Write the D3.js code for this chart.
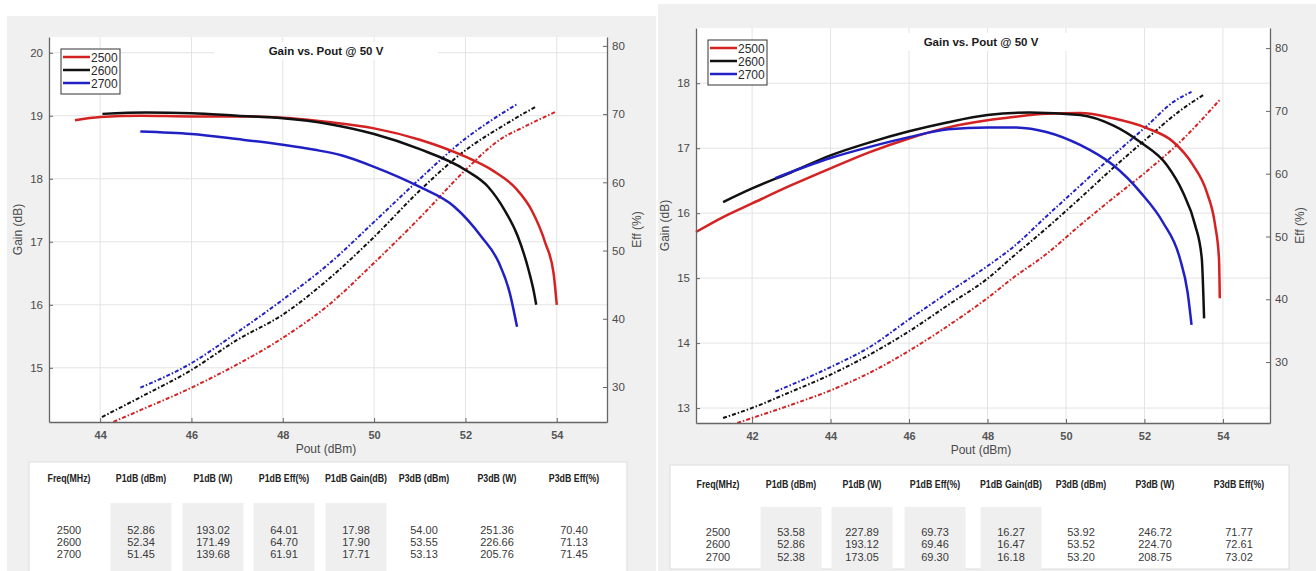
<!DOCTYPE html>
<html>
<head>
<meta charset="utf-8">
<script src="https://cdn.jsdelivr.net/npm/d3@7/dist/d3.min.js"></script>
<style>
  body { margin: 0; background: #fff; }
  svg { display: block; font-family: "Liberation Sans", Arial, Helvetica, sans-serif; }
</style>
</head>
<body>
<script>
// ---- DATA ----
var freqs = ["2500", "2600", "2700"];

// left chart: [Pout (dBm), Gain (dB)]
var leftGain2500 = [[43.45,18.93],[44,18.98],[44.9,19.0],[46,18.99],[47,18.99],[48,18.97],[49,18.9],[50,18.8],[51,18.62],[52,18.35],[52.6,18.13],[53.1,17.85],[53.45,17.5],[53.75,16.98],[53.93,16.5],[54.0,16.0]];
var leftGain2600 = [[44.05,19.03],[45,19.05],[46,19.04],[47,19.0],[48,18.96],[49,18.87],[50,18.71],[51,18.47],[52,18.14],[52.5,17.87],[52.86,17.5],[53.15,17.08],[53.38,16.56],[53.5,16.2],[53.55,16.0]];
var leftGain2700 = [[44.88,18.75],[46,18.71],[47,18.63],[48,18.54],[48.7,18.46],[49.3,18.37],[50,18.19],[51,17.87],[51.75,17.56],[52.35,17.08],[52.73,16.67],[52.97,16.19],[53.13,15.65]];
// left chart: [Pout (dBm), Eff (%)]
var leftEff2500 = [[44.29,24.9],[44.88,26.6],[46,29.9],[47,33.3],[48,37.2],[49,42.0],[50,48.2],[51,54.8],[52,61.8],[52.7,66.0],[53.4,68.5],[54.0,70.4]];
var leftEff2600 = [[44.04,25.6],[44.88,28.5],[46,32.5],[47,36.9],[48,40.6],[49,45.8],[50,52.0],[51,58.8],[52,64.7],[52.9,68.6],[53.55,71.13]];
var leftEff2700 = [[44.88,29.9],[46,33.5],[47,38.0],[48,42.8],[49,48.0],[50,54.2],[51,60.5],[52,66.4],[52.57,69.1],[53.13,71.45]];

// right chart: [Pout (dBm), Gain (dB)]
var rightGain2500 = [[40.57,15.71],[41.26,15.94],[42,16.15],[43,16.43],[44,16.69],[45,16.94],[46,17.15],[47,17.32],[48,17.43],[48.65,17.48],[49.5,17.53],[50.36,17.54],[51.2,17.46],[52.06,17.31],[52.73,17.1],[53.24,16.74],[53.59,16.32],[53.8,15.82],[53.9,15.3],[53.92,14.69]];
var rightGain2600 = [[41.26,16.17],[42,16.38],[43,16.63],[44,16.89],[45,17.09],[46,17.26],[47,17.4],[48,17.51],[49.08,17.55],[50.36,17.51],[51.2,17.35],[51.9,17.09],[52.57,16.74],[52.98,16.32],[53.29,15.82],[53.46,15.31],[53.52,14.38]];
var rightGain2700 = [[42.59,16.54],[44,16.85],[45,17.02],[46,17.17],[47,17.29],[48,17.32],[48.65,17.32],[49.5,17.25],[50.36,17.05],[51.2,16.74],[51.9,16.32],[52.47,15.86],[52.9,15.31],[53.1,14.78],[53.2,14.28]];
// right chart: [Pout (dBm), Eff (%)]
var rightEff2500 = [[41.62,20.3],[42,21.1],[43,23.2],[44,25.5],[45,28.3],[46,31.8],[47,35.8],[48,40.2],[48.65,43.4],[49.5,47.2],[50.36,51.8],[51.2,56.1],[52.06,60.4],[52.9,65.0],[53.92,71.77]];
var rightEff2600 = [[41.26,21.1],[42,22.7],[43,25.3],[44,28.0],[45,31.2],[46,34.9],[47,39.1],[48,43.3],[48.65,46.8],[49.5,51.3],[50.36,56.1],[51.2,60.9],[52.06,65.6],[52.9,70.0],[53.52,72.61]];
var rightEff2700 = [[42.59,25.3],[44,29.2],[45,32.4],[46,36.8],[47,41.1],[48,45.3],[48.65,48.3],[49.5,53.2],[50.36,58.1],[51.2,62.9],[52.06,67.6],[52.73,71.4],[53.2,73.02]];

// axis ticks
var leftXTicks = [44, 46, 48, 50, 52, 54];
var leftGainTicks = [15, 16, 17, 18, 19, 20];
var rightXTicks = [42, 44, 46, 48, 50, 52, 54];
var rightGainTicks = [13, 14, 15, 16, 17, 18];
var effTicks = [30, 40, 50, 60, 70, 80];

// tables
var tableHeaders = ["Freq(MHz)", "P1dB (dBm)", "P1dB (W)", "P1dB Eff(%)", "P1dB Gain(dB)", "P3dB (dBm)", "P3dB (W)", "P3dB Eff(%)"];
var leftTable = [
  ["2500", "52.86", "193.02", "64.01", "17.98", "54.00", "251.36", "70.40"],
  ["2600", "52.34", "171.49", "64.70", "17.90", "53.55", "226.66", "71.13"],
  ["2700", "51.45", "139.68", "61.91", "17.71", "53.13", "205.76", "71.45"]
];
var rightTable = [
  ["2500", "53.58", "227.89", "69.73", "16.27", "53.92", "246.72", "71.77"],
  ["2600", "52.86", "193.12", "69.46", "16.47", "53.52", "224.70", "72.61"],
  ["2700", "52.38", "173.05", "69.30", "16.18", "53.20", "208.75", "73.02"]
];

// ---- STYLE ----
var W = 1316, H = 571;
var color = d3.scaleOrdinal().domain(freqs).range(["#d42222", "#111111", "#2020c4"]);
var tickColor = "#4a4a4a";

var svg = d3.select("body").append("svg")
    .attr("width", W)
    .attr("height", H);

// scaled text helper (the screenshot text is a bit condensed)
function stext(g, x, y, str, opt) {
  return g.append("text")
      .attr("transform", "translate(" + x + "," + y + ") scale(" + (opt.sx || 1) + ",1)")
      .attr("text-anchor", opt.anchor || "middle")
      .attr("font-size", opt.size)
      .attr("font-weight", opt.weight || "normal")
      .attr("fill", opt.fill || "#333")
      .text(str);
}

function drawChart(cfg) {
  var g = svg.append("g");

  g.append("rect")
      .attr("x", cfg.panel[0]).attr("y", cfg.panel[1])
      .attr("width", cfg.panel[2]).attr("height", cfg.panel[3])
      .attr("fill", "#f0f0f0");

  var x = d3.scaleLinear().domain(cfg.xDomain).range([cfg.x0, cfg.x1]);
  var yG = d3.scaleLinear().domain(cfg.gainDomain).range([cfg.y1, cfg.y0]);
  var yE = d3.scaleLinear().domain(cfg.effDomain).range([cfg.y1, cfg.y0]);

  g.append("rect")
      .attr("x", cfg.x0).attr("y", cfg.y0)
      .attr("width", cfg.x1 - cfg.x0).attr("height", cfg.y1 - cfg.y0)
      .attr("fill", "#fff");

  // grid
  g.selectAll(".vgrid").data(cfg.xTicks).enter().append("line")
      .attr("x1", function(d) { return x(d); }).attr("x2", function(d) { return x(d); })
      .attr("y1", cfg.y0).attr("y2", cfg.y1)
      .attr("stroke", "#e3e3e3").attr("stroke-width", 1);
  g.selectAll(".hgrid").data(cfg.gainTicks).enter().append("line")
      .attr("x1", cfg.x0).attr("x2", cfg.x1)
      .attr("y1", function(d) { return yG(d); }).attr("y2", function(d) { return yG(d); })
      .attr("stroke", "#e3e3e3").attr("stroke-width", 1);

  // title with white background
  var tx = (cfg.x0 + cfg.x1) / 2 - 2;
  g.append("rect")
      .attr("x", tx - 112).attr("y", cfg.y0 + 5)
      .attr("width", 224).attr("height", 18)
      .attr("fill", "#fff");
  stext(g, tx, cfg.y0 + 18, "Gain vs. Pout @ 50 V", {size: 11.5, weight: "bold", fill: "#1a1a1a"});

  var line = function(ys) {
    return d3.line()
        .x(function(d) { return x(d[0]); })
        .y(function(d) { return ys(d[1]); })
        .curve(d3.curveMonotoneX);
  };

  freqs.forEach(function(f, i) {
    g.append("path")
        .attr("d", line(yE)(cfg.eff[i]))
        .attr("fill", "none")
        .attr("stroke", color(f))
        .attr("stroke-width", 2)
        .attr("stroke-dasharray", "4,2,1.5,2");
  });
  freqs.forEach(function(f, i) {
    g.append("path")
        .attr("d", line(yG)(cfg.gain[i]))
        .attr("fill", "none")
        .attr("stroke", color(f))
        .attr("stroke-width", 2.5);
  });

  // axes
  var ax = g.append("g")
      .attr("transform", "translate(0," + cfg.y1 + ")")
      .call(d3.axisBottom(x).tickValues(cfg.xTicks).tickFormat(d3.format("d"))
          .tickSizeInner(-4).tickSizeOuter(0).tickPadding(9));
  var ayl = g.append("g")
      .attr("transform", "translate(" + cfg.x0 + ",0)")
      .call(d3.axisLeft(yG).tickValues(cfg.gainTicks).tickFormat(d3.format("d"))
          .tickSizeInner(-4).tickSizeOuter(0).tickPadding(6));
  var ayr = g.append("g")
      .attr("transform", "translate(" + cfg.x1 + ",0)")
      .call(d3.axisRight(yE).tickValues(effTicks).tickFormat(d3.format("d"))
          .tickSizeInner(-4).tickSizeOuter(0).tickPadding(5));
  [ax, ayl, ayr].forEach(function(a) {
    a.select(".domain").attr("stroke", "#666").attr("stroke-width", 1.3);
    a.selectAll(".tick line").attr("stroke", "#666");
    a.selectAll(".tick text")
        .attr("font-family", "Liberation Sans, Arial, sans-serif")
        .attr("font-size", 11.5)
        .attr("fill", tickColor);
  });
  ax.selectAll(".tick text").attr("font-weight", "bold").attr("font-size", 11).attr("fill", "#555");

  // axis labels
  var cy = (cfg.y0 + cfg.y1) / 2;
  stext(g, (cfg.x0 + cfg.x1) / 2 - 2, cfg.y1 + 31, "Pout (dBm)", {size: 12, fill: tickColor});
  g.append("text")
      .attr("transform", "translate(" + (cfg.x0 - 27) + "," + cy + ") rotate(-90)")
      .attr("text-anchor", "middle")
      .attr("font-size", 12).attr("fill", tickColor)
      .text("Gain (dB)");
  g.append("text")
      .attr("transform", "translate(" + (cfg.x1 + 34) + "," + cy + ") rotate(-90)")
      .attr("text-anchor", "middle")
      .attr("font-size", 12).attr("fill", tickColor)
      .text("Eff (%)");

  // legend
  var lg = g.append("g").attr("transform", "translate(" + (cfg.x0 + 12) + "," + (cfg.y0 + 12) + ")");
  lg.append("rect")
      .attr("width", 59).attr("height", 45)
      .attr("fill", "#fff").attr("stroke", "#333").attr("stroke-width", 1);
  freqs.forEach(function(f, i) {
    var ly = 8 + i * 13;
    lg.append("line")
        .attr("x1", 2).attr("x2", 29).attr("y1", ly).attr("y2", ly)
        .attr("stroke", color(f)).attr("stroke-width", 2.5);
    lg.append("text")
        .attr("x", 30).attr("y", ly + 4.5)
        .attr("font-size", 12).attr("fill", "#2a2a2a")
        .text(f);
  });
}

function drawTable(cfg) {
  var g = svg.append("g");
  g.append("rect")
      .attr("x", cfg.box[0]).attr("y", cfg.box[1])
      .attr("width", cfg.box[2]).attr("height", cfg.box[3])
      .attr("fill", "#fff").attr("stroke", "#dcdcdc");
  var cols = cfg.cols;
  // shaded P1dB columns
  [1, 2, 3, 4].forEach(function(c) {
    g.append("rect")
        .attr("x", cols[c] - 30.5).attr("y", cfg.shadeTop)
        .attr("width", 61).attr("height", H - cfg.shadeTop)
        .attr("fill", "#efefef");
  });
  tableHeaders.forEach(function(h, c) {
    stext(g, cols[c], cfg.headY + 3.5, h, {size: 10, weight: "bold", fill: "#222", sx: 0.88});
  });
  // each cell holds the three frequency rows as lines of one text
  tableHeaders.forEach(function(h, c) {
    var t = g.append("text")
        .attr("transform", "translate(" + cols[c] + "," + cfg.rowY + ")")
        .attr("text-anchor", "middle")
        .attr("font-size", 11)
        .attr("fill", "#3a3a3a");
    t.selectAll("tspan").data(cfg.rows).enter().append("tspan")
        .attr("x", 0)
        .attr("y", function(d, r) { return r * 12.4; })
        .text(function(d) { return d[c]; });
  });
}

drawChart({
  panel: [7, 16, 649, 555],
  x0: 49, x1: 607, y0: 37, y1: 422,
  xDomain: [42.88, 55.1], gainDomain: [14.14, 20.25], effDomain: [24.87, 81.3],
  xTicks: leftXTicks, gainTicks: leftGainTicks,
  gain: [leftGain2500, leftGain2600, leftGain2700],
  eff: [leftEff2500, leftEff2600, leftEff2700]
});
drawChart({
  panel: [658, 4, 658, 567],
  x0: 696, x1: 1270, y0: 28, y1: 423,
  xDomain: [40.57, 55.2], gainDomain: [12.77, 18.85], effDomain: [20.3, 83.2],
  xTicks: rightXTicks, gainTicks: rightGainTicks,
  gain: [rightGain2500, rightGain2600, rightGain2700],
  eff: [rightEff2500, rightEff2600, rightEff2700]
});

drawTable({
  box: [29, 462, 598, 120],
  cols: [69, 141, 213, 284, 356, 424, 497, 574],
  headY: 478, shadeTop: 503, rowY: 533.5,
  rows: leftTable
});
drawTable({
  box: [670, 465, 619, 104],
  cols: [718, 791, 862, 935, 1011, 1081, 1155, 1239],
  headY: 484, shadeTop: 507, rowY: 536,
  rows: rightTable
});
</script>
</body>
</html>
